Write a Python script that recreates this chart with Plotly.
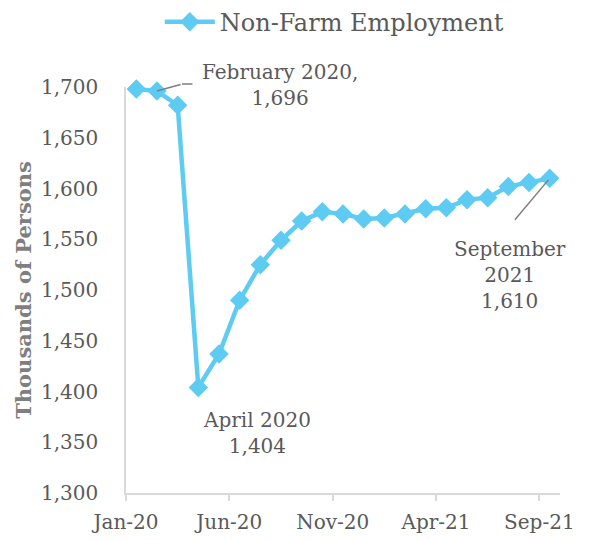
import plotly.graph_objects as go

# Monthly non-farm employment, thousands of persons
months = ["Jan-20", "Feb-20", "Mar-20", "Apr-20", "May-20", "Jun-20", "Jul-20",
          "Aug-20", "Sep-20", "Oct-20", "Nov-20", "Dec-20", "Jan-21", "Feb-21",
          "Mar-21", "Apr-21", "May-21", "Jun-21", "Jul-21", "Aug-21", "Sep-21"]
employment = [1698, 1696, 1682, 1404, 1437, 1490, 1525, 1549, 1568, 1577, 1575,
              1570, 1571, 1575, 1580, 1581, 1589, 1591, 1602, 1606, 1610]
tick_months = ["Jan-20", "Jun-20", "Nov-20", "Apr-21", "Sep-21"]
y_ticks = [1300, 1350, 1400, 1450, 1500, 1550, 1600, 1650, 1700]

# category axis: each month occupies one unit, point sits mid-category
xpos = [i + 0.5 for i in range(len(months))]
tickvals = [months.index(m) for m in tick_months]

LINE = "#5ECCF2"
TXT = "#595959"
AXIS = "#D9D9D9"
FONT = "DejaVu Serif"

fig = go.Figure()
fig.add_trace(go.Scatter(
    x=xpos, y=employment, mode="lines+markers", name="Non-Farm Employment",
    line=dict(color=LINE, width=4.5),
    marker=dict(symbol="diamond", size=15, color=LINE),
    cliponaxis=False,
))

def idx(m):
    return xpos[months.index(m)]

feb, apr, sep = "Feb-20", "Apr-20", "Sep-21"
ann = [
    dict(x=idx(feb), y=employment[months.index(feb)],
         text="February 2020,<br>1,696", showarrow=False, xshift=123, yshift=6),
    dict(x=idx(apr), y=employment[months.index(apr)],
         text="April 2020<br>1,404", showarrow=False, xshift=59, yshift=-46),
    dict(x=idx(sep), y=employment[months.index(sep)],
         text="September<br>2021<br>1,610", showarrow=False, xshift=-40, yshift=-97),
    # leader lines
    dict(x=idx(feb), y=employment[months.index(feb)], text="", showarrow=True,
         arrowhead=0, arrowwidth=1.5, arrowcolor="#7F7F7F", ax=25, ay=-7, standoff=0),
    dict(x=idx(feb), y=employment[months.index(feb)], text="", showarrow=True,
         arrowhead=0, arrowwidth=1.5, arrowcolor="#7F7F7F", ax=12, ay=0,
         xshift=25, yshift=7, standoff=0),
    dict(x=idx(sep), y=employment[months.index(sep)], text="", showarrow=True,
         arrowhead=0, arrowwidth=1.5, arrowcolor="#7F7F7F", ax=-36, ay=43, standoff=2),
]
for a in ann:
    a.setdefault("font", dict(family=FONT, size=20, color=TXT))
    a["xref"] = "x"
    a["yref"] = "y"

fig.update_layout(
    width=594, height=540,
    margin=dict(l=126, r=34, t=87, b=47, autoexpand=False),
    paper_bgcolor="white", plot_bgcolor="white",
    font=dict(family=FONT, color=TXT, size=20),
    showlegend=True,
    legend=dict(orientation="h", x=0.48, xanchor="center",
                yref="container", y=0.959, yanchor="middle",
                font=dict(family=FONT, size=24, color=TXT), itemwidth=50),
    annotations=ann,
    xaxis=dict(
        range=[0, len(months)], tickvals=tickvals, ticktext=tick_months,
        showline=True, linecolor=AXIS, linewidth=1.5, showgrid=False, zeroline=False,
        ticks="outside", ticklen=6, tickcolor=AXIS, tickwidth=1.5, ticklabelstandoff=4,
        tickfont=dict(family=FONT, size=20, color=TXT),
    ),
    yaxis=dict(
        range=[1300, 1700], tickvals=y_ticks, tickformat=",d",
        showline=True, linecolor=AXIS, linewidth=1.5, showgrid=False, zeroline=False,
        ticks="", ticklabelstandoff=22,
        tickfont=dict(family=FONT, size=20, color=TXT),
        title=dict(text="<b>Thousands of Persons</b>", standoff=4,
                   font=dict(family=FONT, size=21, color="#7F7F7F")),
    ),
)

fig.write_html("out.html")
